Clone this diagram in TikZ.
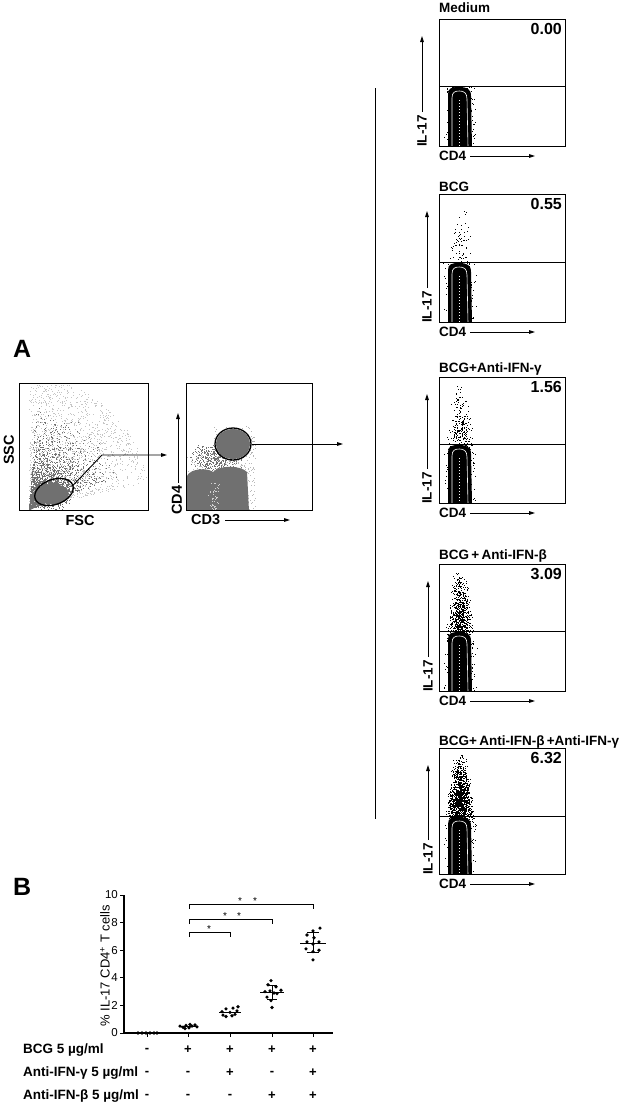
\documentclass[tikz,border=0pt]{standalone}
\usepackage{fontspec}
\setmainfont{Liberation Sans}
\usetikzlibrary{arrows.meta,shapes.geometric}
\definecolor{flowgray}{RGB}{112,112,112}
\newcommand\fsz[1]{\fontsize{#1}{#1}\selectfont}
% #1 top, #2 gate, #3 bottom, #4 n dots, #5 title, #6 title baseline, #7 number, #8 axis x, #9 name prefix
\newcommand\ilpanel[9]{%
\begin{scope}
\clip (439,#1) rectangle (565,#3);
\ifnum#4>0
\foreach \i in {1,...,#4}{%
  \pgfmathsetmacro\hh{rnd*(0.3+0.7*rnd)}%
  \pgfmathsetmacro\yy{#2+2-(#2-#1-3)*\hh}%
  \pgfmathsetmacro\xx{460+(rnd+rnd-1)*(15-8*\hh)}%
  \fill (\xx,\yy) rectangle ++(0.8,0.8);}
\fi
\foreach \i in {1,...,320}{%
  \pgfmathsetmacro\xx{460+17*(rnd+rnd-1)}%
  \pgfmathsetmacro\yy{#2+(#3-#2)*rnd}%
  \fill (\xx,\yy) rectangle ++(0.7,0.7);}
\fill (448,#3+1) -- (448,#2+8) .. controls (448,#2+2) and (452,#2+1) .. (459,#2+1) .. controls (467,#2+1) and (471,#2+3) .. (471,#2+10) -- (472,#3+1) -- cycle;
\draw[white, line width=0.6pt] (452,#3+1) -- (452,#2+12) .. controls (452,#2+6) and (455,#2+5) .. (459.5,#2+5) .. controls (464,#2+5) and (467,#2+7) .. (467,#2+13) -- (468,#3+1);
\draw[white, line width=0.7pt, dash pattern=on 1pt off 2pt] (459.5,#2+14) -- (459.5,#3);
\end{scope}
\draw[line width=1pt] (439,#1) rectangle (565,#3);
\draw[line width=0.8pt] (439,#2) -- (565,#2);
\node[lab, anchor=base west] (#9title) at (439,#6) {#5};
\node[num, anchor=north east] (#9num) at (562,#1+4) {#7};
\node[lab, rotate=90] (#9il) at (#8,#3-15) {IL-17};
\coordinate (#9ya) at (#8,#3-34);
\coordinate (#9yb) at (#8,#1+17);
\draw[axarrow] (#9ya) -- (#9yb);
\node[lab, anchor=west] (#9cd) at (439,#3+10) {CD4};
\coordinate (#9xa) at (470,#3+10);
\coordinate (#9xb) at (535,#3+10);
\draw[axarrow] (#9xa) -- (#9xb);
}
\begin{document}
\begin{tikzpicture}[x=1pt,y=-1pt,
  lab/.style={font=\bfseries\fsz{13.5}, inner sep=0pt},
  num/.style={font=\bfseries\fsz{16}, inner sep=0pt},
  big/.style={font=\bfseries\fsz{25}, inner sep=0pt},
  axarrow/.style={line width=0.9pt, -{Triangle[length=6pt,width=3.6pt]}},
  tick/.style={font=\fsz{11.5}, inner sep=0pt},
  sign/.style={font=\bfseries\fsz{13}, inner sep=0pt},
  dot/.style={fill=black},
  bar/.style={line width=1pt},
  brk/.style={line width=0.8pt},
  star/.style={font=\fsz{10}, inner sep=0pt}]
\useasboundingbox (0,0) rectangle (623,1106);
\pgfmathsetseed{20231}
% ===== Panel A =====
\node[big, anchor=base west] (labA) at (13,357) {A};
% left plot FSC/SSC
\begin{scope}
\clip (19,383) rectangle (148,510);
\foreach \i in {1,...,2000}{%
 \pgfmathsetmacro\rs{rnd}%
 \pgfmathsetmacro\ang{12+78*rnd}%
 \pgfmathsetmacro\xx{29+122*\rs*cos(\ang)}%
 \pgfmathsetmacro\yy{509-132*\rs*sin(\ang)}%
 \fill[gray!45] (\xx,\yy) rectangle ++(0.8,0.8);}
\foreach \i in {1,...,2200}{%
 \pgfmathsetmacro\rs{0.8*rnd*(0.25+0.75*rnd)}%
 \pgfmathsetmacro\ang{18+68*rnd}%
 \pgfmathsetmacro\xx{29+122*\rs*cos(\ang)}%
 \pgfmathsetmacro\yy{509-132*\rs*sin(\ang)}%
 \fill[flowgray] (\xx,\yy) rectangle ++(0.9,0.9);}
\foreach \i in {1,...,1000}{%
 \pgfmathsetmacro\xx{50+16*(rnd+rnd+rnd-1.5)}%
 \pgfmathsetmacro\yy{494+13*(rnd+rnd+rnd-1.5)}%
 \fill[flowgray] (\xx,\yy) rectangle ++(0.9,0.9);}
\fill[flowgray] (52,494) ellipse [x radius=17, y radius=10];
\end{scope}
\draw[line width=1pt] (19,383) rectangle (148,510);
\node[lab, font=\bfseries\fsz{14.5}, rotate=90] (ssc) at (9,450) {SSC};
\node[lab, font=\bfseries\fsz{14.5}] (fsc) at (80,521) {FSC};
\node[draw, ellipse, line width=1.3pt, inner sep=0pt, minimum width=40pt, minimum height=25pt, rotate=20] (gate1) at (54,492) {};
\coordinate (bend1) at (102,455);
\coordinate (tgt1) at (167,455);
\draw[axarrow] (gate1.east) -- (bend1) -- (tgt1);
% middle plot CD3/CD4
\begin{scope}
\clip (186,383) rectangle (312,510);
\foreach \i in {1,...,450}{%
 \pgfmathsetmacro\xx{187+68*rnd}%
 \pgfmathsetmacro\yy{452+58*rnd}%
 \fill[gray!55] (\xx,\yy) rectangle ++(0.8,0.8);}
\foreach \i in {1,...,400}{%
 \pgfmathsetmacro\xx{215+28*(rnd+rnd-1)}%
 \pgfmathsetmacro\yy{458+16*(rnd+rnd-1)}%
 \fill[flowgray] (\xx,\yy) rectangle ++(0.8,0.8);}
\foreach \i in {1,...,250}{%
 \pgfmathsetmacro\xx{234+23*(rnd+rnd-1)}%
 \pgfmathsetmacro\yy{444+20*(rnd+rnd-1)}%
 \fill[gray!60] (\xx,\yy) rectangle ++(0.8,0.8);}
\fill[flowgray] (187,511) -- (187,476) .. controls (190,469) and (206,467) .. (213,472) .. controls (220,465) and (240,465) .. (247,472) -- (249,511) -- cycle;
\foreach \i in {1,...,60}{%
 \pgfmathsetmacro\xx{214+6*(rnd+rnd-1)}%
 \pgfmathsetmacro\yy{482+28*rnd}%
 \fill[gray!35] (\xx,\yy) rectangle ++(0.9,0.9);}
\fill[flowgray] (233,444) ellipse [x radius=17, y radius=15];
\end{scope}
\draw[line width=1pt] (186,383) rectangle (312,510);
\node[draw, ellipse, line width=1.3pt, inner sep=0pt, minimum width=36pt, minimum height=32pt] (gate2) at (233,444) {};
\coordinate (tgt2) at (343,444);
\draw[axarrow] (gate2.east) -- (tgt2);
\node[lab, font=\bfseries\fsz{14.5}, rotate=90] (cd4a) at (177,500) {CD4};
\coordinate (cd4a1) at (178,483);
\coordinate (cd4a2) at (178,413);
\draw[axarrow] (cd4a1) -- (cd4a2);
\node[lab, font=\bfseries\fsz{14.5}, anchor=west] (cd3) at (191,520) {CD3};
\coordinate (cd3a1) at (225,520);
\coordinate (cd3a2) at (290,520);
\draw[axarrow] (cd3a1) -- (cd3a2);
% separator
\coordinate (sep1) at (375,88);
\coordinate (sep2) at (375,819);
\draw[line width=1pt] (sep1) -- (sep2);
% right panels
\ilpanel{19}{86}{146}{0}{Medium}{12}{0.00}{422}{pm}
\ilpanel{194}{262}{322}{70}{BCG}{191}{0.55}{427}{pb}
\ilpanel{377}{444}{503}{220}{BCG+Anti-IFN-γ}{372}{1.56}{427}{pg}
\ilpanel{564}{631}{691}{650}{BCG\,+\,Anti-IFN-β}{559}{3.09}{428}{pbeta}
\ilpanel{748}{816}{874}{1300}{BCG+\,Anti-IFN-β\,+Anti-IFN-γ}{745}{6.32}{428}{pall}
% ===== Panel B =====
\node[big, anchor=base west] (labB) at (13,895) {B};
\coordinate (ytop) at (124,895);
\coordinate (orig) at (124,1033);
\coordinate (xend) at (333,1033);
\draw[line width=1.2pt] (ytop) -- (orig) -- (xend);
\foreach \v in {0,2,4,6,8,10}{%
  \draw[line width=1pt] (124,1033-13.8*\v) -- (120,1033-13.8*\v);
  \node[tick, anchor=east] (yt\v) at (118,1033-13.8*\v) {\v};}
\foreach \gx in {147,188,230,272,313}{\draw[line width=0.8pt] (\gx,1033) -- (\gx,1037);}
\node[rotate=90, font=\fsz{13}, inner sep=0pt] (ylab) at (105,966) {\% IL-17 CD4\textsuperscript{+} T cells};
% data
\foreach \dx/\v in {-9/0,-5/0,-1/0,3/0,7/0,10/0}{\fill[dot] (147+\dx,1033-13.8*\v) circle (1.8);}
\draw[bar] (139,1033) -- (155,1033);
\foreach \dx/\v in {-8/0.5,-5/0.42,-2/0.55,1/0.38,4/0.5,7/0.58,-3/0.33,2/0.62,9/0.45}{\fill[dot] (188+\dx,1033-13.8*\v) circle (1.8);}
\draw[bar] (180,1033-13.8*0.5) -- (196,1033-13.8*0.5);
\foreach \dx/\v in {-7/1.3,-4/1.75,0/1.5,3/1.8,7/1.6,-4/1.2,2/1.25,8/1.9,-8/1.55,5/1.35}{\fill[dot] (230+\dx,1033-13.8*\v) circle (1.8);}
\draw[bar] (219,1033-13.8*1.5) -- (241,1033-13.8*1.5);
\foreach \dx/\v in {-1/3.8,-4/3.5,4/3.35,-7/3.0,-2/3.05,5/2.85,9/3.1,-5/2.6,-1/2.35,0/1.85,2/2.9}{\fill[dot] (272+\dx,1033-13.8*\v) circle (1.8);}
\draw[bar] (260,1033-13.8*2.9) -- (284,1033-13.8*2.9);
\draw[bar] (272,1033-13.8*2.4) -- (272,1033-13.8*3.45);
\draw[bar] (267,1033-13.8*2.4) -- (277,1033-13.8*2.4);
\draw[bar] (267,1033-13.8*3.45) -- (277,1033-13.8*3.45);
\foreach \dx/\v in {7/7.6,0/7.4,-6/7.1,1/6.9,-6/6.6,0/6.45,6/6.6,-7/6.1,0/5.9,6/6.0,0/5.3}{\fill[dot] (313+\dx,1033-13.8*\v) circle (1.8);}
\draw[bar] (300,1033-13.8*6.5) -- (326,1033-13.8*6.5);
\draw[bar] (313,1033-13.8*5.8) -- (313,1033-13.8*7.3);
\draw[bar] (307,1033-13.8*5.8) -- (319,1033-13.8*5.8);
\draw[bar] (307,1033-13.8*7.3) -- (319,1033-13.8*7.3);
% brackets
\draw[brk] (189,937) -- (189,932) -- (230,932) -- (230,937);
\node[star] (s1) at (209,929) {*};
\draw[brk] (189,924) -- (189,919) -- (272,919) -- (272,924);
\node[star] (s2a) at (225,916) {*};
\node[star] (s2b) at (239,916) {*};
\draw[brk] (189,909) -- (189,904) -- (313,904) -- (313,909);
\node[star] (s3a) at (240,901) {*};
\node[star] (s3b) at (255,901) {*};
% rows
\node[lab, anchor=west] (r1) at (23,1050) {BCG 5 µg/ml};
\node[lab, anchor=west] (r2) at (23,1073) {Anti-IFN-γ 5 µg/ml};
\node[lab, anchor=west] (r3) at (23,1096) {Anti-IFN-β 5 µg/ml};
\foreach \gx/\a/\b/\c [count=\k] in {147/-/-/-,188/+/-/-,230/+/+/-,272/+/-/+,313/+/+/+}{%
  \node[sign] (sa\k) at (\gx,1050) {\a};
  \node[sign] (sb\k) at (\gx,1073) {\b};
  \node[sign] (sc\k) at (\gx,1096) {\c};}
\end{tikzpicture}
\end{document}
